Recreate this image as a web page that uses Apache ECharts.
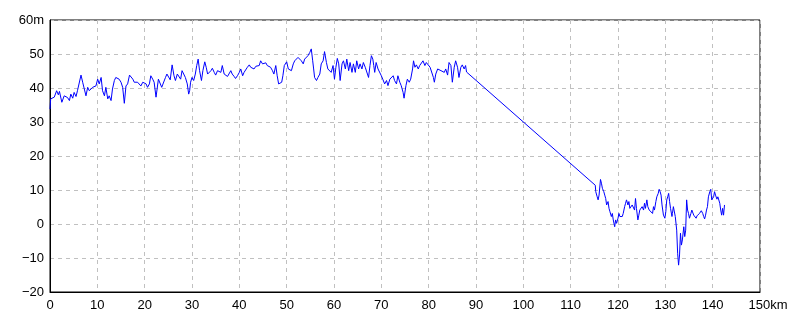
<!DOCTYPE html>
<html>
<head>
<meta charset="utf-8">
<script src="https://cdn.jsdelivr.net/npm/echarts@6/dist/echarts.min.js"></script>
<style>
  html, body { margin: 0; padding: 0; background: #fff; }
  #chart { width: 800px; height: 320px; }
</style>
</head>
<body>
<div id="chart"></div>
<script>
// elevation profile: distance (km) against height (m)
const distKm = [
  0, 0.14, 0.56, 0.9, 1.4, 1.76, 2.0, 2.5, 3.0, 3.7, 4.1, 4.4, 4.8, 5.1, 5.5, 5.8, 6.2, 6.55, 6.9, 7.25,
  7.6, 7.96, 8.3, 8.66, 9.0, 9.37, 9.7, 10.07, 10.4, 10.8, 11.1, 11.5, 11.8, 12.2, 12.5, 12.9, 13.2, 13.6, 13.9, 14.3,
  14.6, 15.0, 15.35, 15.7, 16.05, 16.4, 16.8, 17.1, 17.5, 17.8, 18.2, 18.5, 18.9, 19.2, 19.6, 19.9, 20.3, 20.6, 21.0, 21.3,
  21.7, 22.0, 22.4, 22.6, 22.9, 23.2, 23.6, 24.0, 24.4, 24.7, 25.1, 25.4, 25.8, 26.2, 26.5, 26.9, 27.2, 27.6, 27.9, 28.3,
  28.6, 29.0, 29.3, 29.5, 29.7, 30.0, 30.35, 30.7, 31.0, 31.3, 31.6, 32.0, 32.3, 32.7, 33.0, 33.3, 33.6, 34.0, 34.3, 34.7,
  35.0, 35.4, 35.7, 36.1, 36.4, 36.8, 37.1, 37.5, 37.8, 38.2, 38.5, 38.9, 39.2, 39.6, 40.0, 40.3, 40.7, 41.0, 41.4, 41.7,
  42.1, 42.4, 42.8, 43.1, 43.5, 43.8, 44.2, 44.5, 44.9, 45.2, 45.6, 45.9, 46.3, 46.6, 47.0, 47.3, 47.7, 48.0, 48.3, 48.6,
  48.95, 49.2, 49.5, 49.8, 50.0, 50.35, 50.7, 51.0, 51.4, 51.7, 52.1, 52.4, 52.8, 53.1, 53.5, 53.8, 54.2, 54.5, 54.9, 55.2,
  55.5, 55.7, 55.9, 56.3, 56.6, 57.0, 57.3, 57.7, 58.0, 58.4, 58.7, 59.1, 59.4, 59.8, 60.1, 60.4, 60.7, 61.0, 61.3, 61.7,
  62.0, 62.4, 62.7, 63.1, 63.4, 63.8, 64.1, 64.5, 64.8, 65.2, 65.5, 65.9, 66.2, 66.6, 66.9, 67.3, 67.6, 67.9, 68.2, 68.4,
  68.6, 68.9, 69.3, 69.6, 70.0, 70.3, 70.7, 71.1, 71.4, 71.8, 72.1, 72.5, 72.8, 73.2, 73.5, 73.9, 74.2, 74.6, 74.8, 75.2,
  75.5, 75.9, 76.2, 76.6, 76.8, 77.1, 77.4, 77.8, 78.1, 78.5, 78.8, 79.2, 79.5, 79.9, 80.3, 80.6, 81.0, 81.2, 81.5, 81.9,
  82.2, 82.6, 82.9, 83.3, 83.6, 84.0, 84.3, 84.7, 85.0, 85.4, 85.7, 86.1, 86.4, 86.8, 87.1, 87.5, 87.8, 88.0,
  115.2, 115.3, 115.6, 115.8, 116.0, 116.3, 116.5, 116.7, 117.0, 117.2, 117.4, 117.6, 117.9, 118.1, 118.3, 118.6, 118.8, 119.0,
  119.3, 119.5, 119.7, 120.0, 120.2, 120.4, 120.7, 120.9, 121.1, 121.4, 121.6, 121.8, 122.1, 122.3, 122.5, 122.8, 123.0, 123.2,
  123.5, 123.7, 123.9, 124.2, 124.4, 124.6, 124.9, 125.1, 125.4, 125.6, 125.8, 126.1, 126.3, 126.6, 126.8, 127.0, 127.3, 127.5,
  127.7, 128.0, 128.2, 128.5, 128.7, 128.9, 129.1, 129.3, 129.6, 129.9, 130.1, 130.3, 130.5, 130.7, 130.9, 131.1, 131.4, 131.5,
  131.7, 131.9, 132.1, 132.4, 132.6, 132.8, 133.0, 133.2, 133.4, 133.6, 133.9, 134.1, 134.3, 134.5, 134.7, 134.9, 135.1, 135.4,
  135.6, 135.8, 136.0, 136.2, 136.5, 136.7, 136.9, 137.2, 137.4, 137.6, 137.9, 138.1, 138.3, 138.5, 138.7, 138.9, 139.1, 139.4,
  139.6, 139.8, 140.0, 140.2, 140.4, 140.6, 140.9, 141.1, 141.3, 141.5, 141.7, 141.9, 142.1, 142.3, 142.5
];
const elevM = [
  33.8, 36.8, 37.0, 37.3, 39.2, 38.0, 39.0, 35.8, 37.7, 37.2, 36.3, 38.2, 37.0, 38.7, 37.5, 39.2, 39.7, 43.8, 41.7, 39.7,
  37.7, 40.2, 39.2, 39.7, 40.2, 40.6, 40.6, 42.6, 41.2, 43.1, 39.2, 37.7, 40.2, 36.8, 37.7, 36.3, 39.7, 42.2, 43.1, 43.6,
  42.6, 41.7, 40.2, 35.5, 40.6, 41.2, 43.8, 43.6, 42.6, 41.7, 42.2, 41.7, 41.7, 40.6, 41.7, 42.2, 41.2, 40.2, 41.2, 43.6,
  42.6, 41.7, 37.3, 37.0, 42.6, 42.2, 40.2, 40.7, 43.1, 44.1, 44.6, 42.4, 46.8, 43.6, 42.2, 44.1, 44.6, 42.6, 45.1, 44.6,
  43.1, 41.2, 38.2, 39.2, 41.7, 43.1, 42.2, 44.1, 46.6, 48.5, 45.1, 42.2, 45.1, 47.7, 46.1, 44.1, 44.6, 45.1, 45.8, 44.6,
  43.8, 45.1, 45.6, 44.6, 46.6, 44.1, 43.6, 43.4, 43.1, 45.1, 44.1, 43.4, 42.8, 43.6, 44.6, 45.6, 43.6, 44.6, 45.1, 46.1,
  46.8, 46.1, 46.6, 45.6, 46.4, 46.1, 46.6, 48.0, 47.1, 47.4, 47.4, 46.6, 47.1, 46.1, 45.1, 44.1, 46.6, 43.6, 41.2, 40.9,
  41.7, 43.6, 46.6, 46.1, 47.7, 45.6, 46.1, 45.1, 47.1, 48.0, 48.5, 49.0, 48.5, 48.0, 47.1, 48.5, 48.3, 49.5, 50.5, 51.5,
  48.0, 45.6, 43.1, 42.2, 43.1, 44.1, 47.1, 48.0, 50.7, 47.5, 45.6, 45.6, 44.6, 46.6, 42.6, 46.1, 48.7, 47.1, 42.2, 47.1,
  48.0, 45.6, 48.5, 45.1, 47.5, 44.6, 47.1, 44.6, 48.0, 45.6, 47.1, 45.6, 47.5, 46.1, 45.6, 43.1, 46.6, 49.5, 48.5, 46.6,
  44.6, 47.5, 45.6, 46.1, 43.6, 42.6, 41.2, 42.2, 40.7, 42.6, 43.1, 43.6, 42.2, 41.2, 43.6, 41.7, 40.7, 38.7, 37.0, 40.7,
  42.6, 41.7, 42.6, 45.6, 48.0, 46.1, 46.8, 45.6, 46.6, 46.1, 48.0, 46.6, 47.5, 47.1, 46.1, 45.6, 43.1, 41.7, 44.1, 45.6,
  46.1, 45.1, 45.6, 44.6, 45.6, 43.8, 47.5, 46.6, 41.7, 46.1, 48.0, 46.1, 43.1, 46.1, 46.8, 45.6, 46.6, 44.7,
  11.4, 9.5, 8.0, 7.1, 8.5, 13.1, 12.0, 10.5, 9.5, 8.5, 7.5, 5.6, 6.6, 4.6, 3.6, 2.2, 3.1, 1.2,
  -0.8, 1.2, 0.2, 1.7, 3.1, 2.2, 2.6, 2.2, 3.1, 5.1, 6.1, 7.1, 5.6, 6.6, 4.6, 4.1, 5.6, 6.1,
  4.1, 7.5, 4.6, 1.2, 2.6, 4.1, 4.6, 5.1, 4.1, 6.1, 4.6, 7.1, 5.1, 4.1, 4.6, 4.1, 3.1, 5.1,
  4.1, 6.6, 8.0, 9.0, 10.2, 9.5, 8.5, 5.6, 2.6, 1.7, 3.6, 7.1, 8.0, 9.0, 6.6, 4.6, 2.2, 3.1,
  5.1, 4.6, 2.2, -1.8, -8.6, -12.1, -9.1, -2.7, -6.2, -4.7, -0.8, -3.7, -1.8, 7.1, 4.1, 3.1, 1.7, 3.1,
  4.1, 3.6, 2.6, 2.2, 1.7, 2.4, 2.6, 3.1, 3.6, 3.9, 3.1, 2.2, 1.5, 2.6, 4.1, 5.1, 8.0, 9.5,
  10.2, 7.1, 7.5, 8.0, 9.5, 8.5, 7.3, 8.0, 8.2, 6.1, 4.1, 2.6, 4.6, 2.6, 5.6
];

const profile = distKm.map((d, i) => [d, elevM[i]]);

const FONT = '"Liberation Sans", Arial, sans-serif';
const minus = (v) => String(v).replace('-', '\u2212');

const chart = echarts.init(document.getElementById('chart'), null, { renderer: 'canvas' });
chart.setOption({
  animation: false,
  backgroundColor: '#ffffff',
  grid: { left: 50, right: 40, top: 20, bottom: 28, show: true, borderColor: '#000', borderWidth: 1, backgroundColor: 'transparent' },
  xAxis: {
    type: 'value',
    min: 0,
    max: 150,
    interval: 10,
    axisLine: { show: true, onZero: false, lineStyle: { color: '#000', width: 1 } },
    axisTick: { show: false },
    splitLine: { show: true, lineStyle: { color: '#c0c0c0', type: [4, 4], width: 1 } },
    axisLabel: {
      color: '#000', fontSize: 13, fontFamily: FONT, margin: 7,
      formatter: (v) => (v === 150 ? '{k|150km}' : minus(v)),
      rich: { k: { color: '#000', fontSize: 13, fontFamily: FONT, padding: [0, 0, 0, 16] } },
    },
  },
  yAxis: {
    type: 'value',
    min: -20,
    max: 60,
    interval: 10,
    axisLine: { show: true, onZero: false, lineStyle: { color: '#000', width: 1 } },
    axisTick: { show: false },
    splitLine: { show: true, lineStyle: { color: '#c0c0c0', type: [4, 4], width: 1 } },
    axisLabel: {
      color: '#000', fontSize: 13, fontFamily: FONT, margin: 6,
      formatter: (v) => (v === 60 ? '60m' : minus(v)),
    },
  },
  series: [{
    type: 'line',
    data: profile,
    showSymbol: false,
    symbol: 'none',
    lineStyle: { color: '#0000ff', width: 1 },
  }],
});
</script>
</body>
</html>
